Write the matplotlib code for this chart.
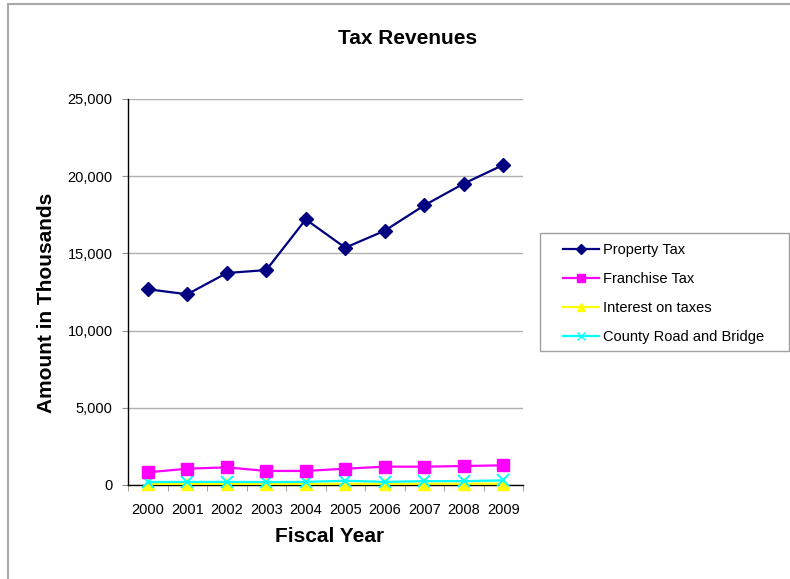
import matplotlib
matplotlib.use("Agg")
import matplotlib.pyplot as plt
from matplotlib.lines import Line2D
from matplotlib.patches import Rectangle
from matplotlib.ticker import FuncFormatter, FixedLocator

plt.rcParams['font.family'] = ['Liberation Sans', 'DejaVu Sans']

years = ['2000', '2001', '2002', '2003', '2004', '2005', '2006', '2007', '2008', '2009']
property_tax = [12680, 12350, 13730, 13920, 17200, 15370, 16470, 18110, 19520, 20730]
franchise_tax = [820, 1056, 1144, 910, 910, 1056, 1187, 1187, 1230, 1274]
interest_on_taxes = [70, 70, 70, 70, 70, 80, 70, 80, 80, 90]
county_road_bridge = [190, 200, 200, 190, 200, 280, 200, 250, 250, 300]

series_names = ['Property Tax', 'Franchise Tax', 'Interest on taxes', 'County Road and Bridge']
W, H = 790, 579
fig = plt.figure(figsize=(W / 100, H / 100), dpi=100)
fig.patch.set_facecolor('white')

ax = fig.add_axes([128 / W, 1 - 485 / H, (523 - 128) / W, (485 - 99) / H])
x = list(range(len(years)))

ax.plot(x, property_tax, color='#000080', lw=1.6, marker='D', ms=7, mec='#000080',
        zorder=6, clip_on=False)
ax.plot(x, franchise_tax, color='#FF00FF', lw=1.6, marker='s', ms=8, mec='#FF00FF',
        zorder=6, clip_on=False)
ax.plot(x, interest_on_taxes, color='#FFFF00', lw=1.6, marker='^', ms=9, mec='#FFFF00',
        zorder=4, clip_on=False)
ax.plot(x, county_road_bridge, color='#00FFFF', lw=1.6, marker='x', ms=8, mew=1.4,
        zorder=5, clip_on=False)

ax.set_xlim(-0.5, len(years) - 0.5)
ax.set_ylim(0, 25000)
ax.set_yticks(range(0, 25001, 5000))
ax.yaxis.set_major_formatter(FuncFormatter(lambda v, p: f'{int(v):,}'))
ax.grid(axis='y', color='#b0b0b0', lw=1.0, zorder=0)
ax.set_axisbelow(True)

ax.set_xticks(x)
ax.set_xticklabels(years)
ax.xaxis.set_minor_locator(FixedLocator([i - 0.5 for i in range(len(years) + 1)]))
ax.tick_params(axis='x', which='major', length=0, pad=13, labelsize=10.5)
ax.tick_params(axis='x', which='minor', length=4, color='#909090', direction='out')
ax.tick_params(axis='y', length=4, color='#909090', direction='out', pad=7, labelsize=10.5)

for s in ['top', 'right']:
    ax.spines[s].set_visible(False)
for s in ['left', 'bottom']:
    ax.spines[s].set_color('black')
    ax.spines[s].set_linewidth(1.0)
    ax.spines[s].set_zorder(3)

fig.text(407.5 / W, 1 - 38 / H, 'Tax Revenues', ha='center', va='center',
         fontsize=15, fontweight='bold')
fig.text(330 / W, 1 - 537 / H, 'Fiscal Year', ha='center', va='center',
         fontsize=15, fontweight='bold')
fig.text(47 / W, 1 - 303 / H, 'Amount in Thousands', ha='center', va='center',
         rotation=90, fontsize=15, fontweight='bold')

# Legend with smaller markers than the plotted series
handles = [
    Line2D([], [], color='#000080', lw=1.6, marker='D', ms=5, mec='#000080'),
    Line2D([], [], color='#FF00FF', lw=1.6, marker='s', ms=6, mec='#FF00FF'),
    Line2D([], [], color='#FFFF00', lw=1.6, marker='^', ms=6, mec='#FFFF00'),
    Line2D([], [], color='#00FFFF', lw=1.6, marker='x', ms=6, mew=1.0),
]
fig.legend(handles, series_names, loc='upper left', frameon=False,
           bbox_to_anchor=(563 / W, 1 - 243 / H), fontsize=10.5,
           handlelength=2.5, handletextpad=0.25, labelspacing=1.03,
           borderpad=0.0, borderaxespad=0.0)
fig.patches.append(Rectangle((540 / W, 1 - 351 / H), (789 - 540) / W, (351 - 233) / H,
                             transform=fig.transFigure, fill=False,
                             edgecolor='#a0a0a0', lw=1.0))

# Outer chart frame
fig.add_artist(Line2D([8 / W, 8 / W], [0, 1 - 4 / H], transform=fig.transFigure,
                      color='#a8a8a8', lw=1.5))
fig.add_artist(Line2D([8 / W, 1], [1 - 4 / H, 1 - 4 / H], transform=fig.transFigure,
                      color='#a8a8a8', lw=1.5))

fig.savefig('out.png', dpi=100, facecolor='white')
